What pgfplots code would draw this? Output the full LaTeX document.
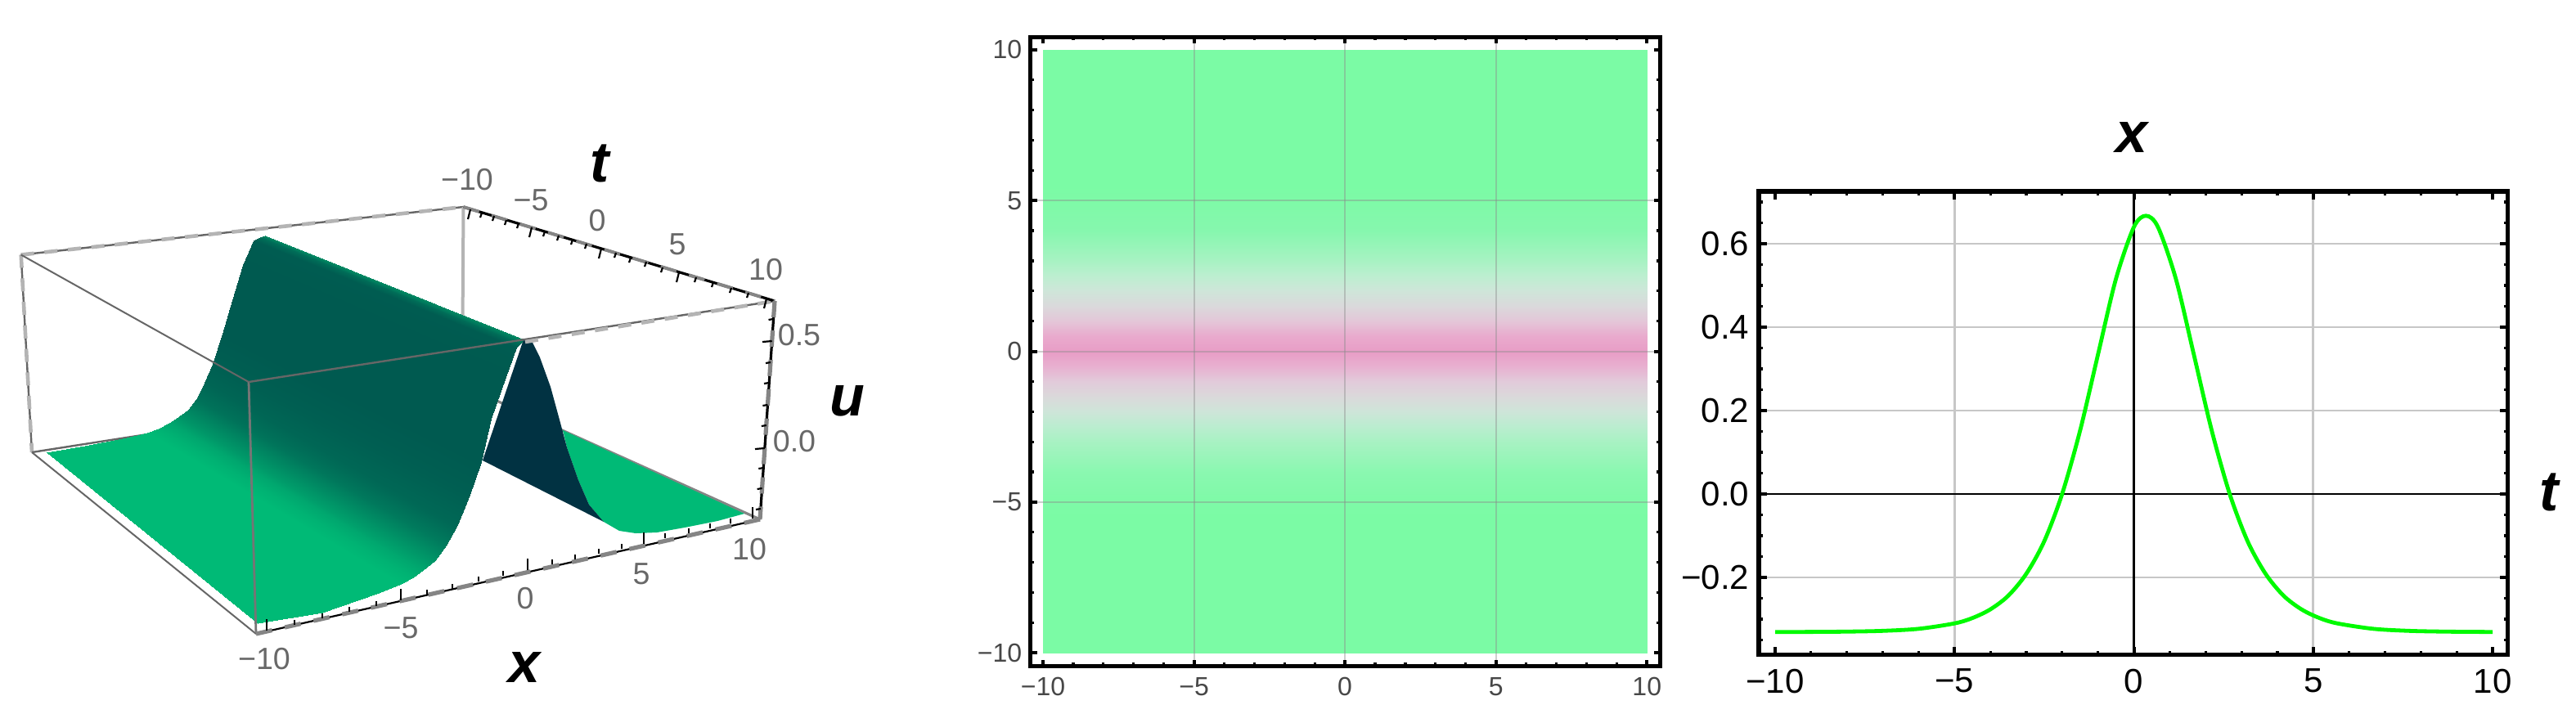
\documentclass[border=0pt]{standalone}
\usepackage{fontspec}
\setmainfont{Liberation Sans}
\usepackage{pgfplots}
\pgfplotsset{compat=1.18}
\definecolor{boxdark}{HTML}{666666}
\definecolor{boxlight}{HTML}{B4B4B4}
\definecolor{axgray}{HTML}{858585}
\definecolor{labgray}{HTML}{686868}
\tikzset{
 thindark/.style={boxdark,line width=0.6pt},
 lightdash/.style={boxlight,line width=1.15pt,dash pattern=on 4pt off 3.2pt},
 graydash/.style={axgray,line width=1.3pt,dash pattern=on 5pt off 4pt},
 blk/.style={black,line width=0.55pt},
 p1lab/.style={font=\fontsize{9.4}{10}\selectfont,text=labgray,inner sep=0pt},
 bigl/.style={font=\fontsize{17.5}{18}\selectfont\bfseries\itshape,text=black,inner sep=0pt},
 gridp/.style={color=black!45,opacity=0.42,line width=0.5pt},
}
\begin{document}
\begin{tikzpicture}
\useasboundingbox (0,0) rectangle (787.25pt,218pt);
% ---------- panel 1 : pixel-space axis
\begin{axis}[at={(0pt,0pt)},anchor=south west,scale only axis,width=787.25pt,height=218pt,
 xmin=0,xmax=3149,ymin=0,ymax=872,y dir=reverse,axis lines=none,clip=false,unbounded coords=jump,
 colormap={sf}{rgb255(0pt)=(0,186,118); rgb255(1pt)=(0,90,80)},
 point meta min=0,point meta max=1]
% back box
\addplot[thindark] coordinates {(25.7,311.5)(566.5,253)};
\addplot[lightdash] coordinates {(25.7,311.5)(566.5,253)};
\addplot[thindark] coordinates {(25.7,311.5)(39,553)};
\addplot[lightdash] coordinates {(25.7,311.5)(39,553)};
\addplot[thindark] coordinates {(566.5,253)(565,471)};
\addplot[boxlight,line width=1pt] coordinates {(566.5,253)(565,471)};
\addplot[thindark] coordinates {(39,553)(565,471)};
\addplot[axgray,line width=0.8pt] coordinates {(565,471)(929,635)};
% surface
\addplot[fill={rgb,255:red,0;green,186;blue,118},draw=none] coordinates {(688,526)(910,628)(877,637)(837,645)(803,651)(777,652)(757,649)(738,638)(720,617)(707,587)(693,547)} -- cycle;
\addplot[fill={rgb,255:red,1;green,50;blue,66},draw=none] coordinates {(649,415)(660,437)(673,473)(685,517)(693,547)(707,587)(720,617)(738,638)(590,563)(640,415)} -- cycle;
\addplot[surf,shader=interp,mesh/rows=17,mesh/cols=2,point meta=explicit]
 table[x=a,y=b,meta=m] {
a b m
57 553 0
315 762 0
104 545 0
394 749 0
155 535 0
460 726 0
180 529 0
490 714 0
194 524 0.08
505 706 0.08
207 517 0.2
517 697 0.2
219 509 0.4
532 685 0.4
230 501 0.55
545 667 0.65
240 488 0.75
558 644 0.85
250 468 0.88
566 625 0.9
260 445 0.95
574 605 0.95
272 408 1
588 565 1
284 367 1
600 512 1
297 324 1
618 461 1
310 294 0.98
631 425 0.98
318 290 0.8
636 420 0.8
324 288 0.5
640 415 0.5
};
% front box
\addplot[thindark,line width=0.5pt] coordinates {(25.7,311.5)(304,467)};
\addplot[thindark,line width=0.5pt] coordinates {(39,553)(313,775)};
\addplot[color=boxdark!90,line width=0.7pt] coordinates {(304,467)(313,775)};
\addplot[thindark] coordinates {(304,467)(947,368)};
\addplot[lightdash] coordinates {(642,418)(947,368)};
\addplot[blk] coordinates {(313,775)(929,635)};
\addplot[graydash] coordinates {(313,775)(929,635)};
\addplot[blk,line width=0.8pt] coordinates {(566.5,253)(947,368)};
\addplot[graydash,line width=1pt] coordinates {(566.5,253)(947,368)};
\addplot[blk,line width=0.8pt] coordinates {(947,368)(929,635)};
\addplot[graydash] coordinates {(947,368)(929,635)};
% x ticks
\addplot[blk] coordinates {(326,771)(326,757)(nan,nan)(360,764)(360,758)(nan,nan)(394,756)(394,750)(nan,nan)(427,748)(427,742)(nan,nan)(460,741)(460,735)(nan,nan)(490,734)(490,720)(nan,nan)(522,727)(522,721)(nan,nan)(553,720)(553,714)(nan,nan)(585,711)(585,705)(nan,nan)(615,704)(615,698)(nan,nan)(645,697)(645,683)(nan,nan)(675,690)(675,684)(nan,nan)(703,684)(703,678)(nan,nan)(732,677)(732,671)(nan,nan)(760,671)(760,665)(nan,nan)(787,665)(787,651)(nan,nan)(813,658)(813,652)(nan,nan)(842,652)(842,646)(nan,nan)(868,646)(868,640)(nan,nan)(893,640)(893,634)(nan,nan)(920,634)(920,620)};
% t ticks
\addplot[blk] coordinates {(575,256)(572,268)(nan,nan)(589,260)(587,266)(nan,nan)(604,264)(602,270)(nan,nan)(619,269)(617,275)(nan,nan)(634,273)(632,279)(nan,nan)(650,278)(647,290)(nan,nan)(666,283)(664,289)(nan,nan)(683,288)(681,294)(nan,nan)(700,293)(698,299)(nan,nan)(717,298)(715,304)(nan,nan)(735,304)(732,316)(nan,nan)(753,309)(751,315)(nan,nan)(771,315)(769,321)(nan,nan)(790,320)(788,326)(nan,nan)(810,327)(808,333)(nan,nan)(830,333)(827,345)(nan,nan)(851,339)(849,345)(nan,nan)(872,345)(870,351)(nan,nan)(894,352)(892,358)(nan,nan)(915,358)(913,364)(nan,nan)(937,365)(934,377)};
% u ticks
\addplot[blk] coordinates {(945.5,390)(939.5,391)(nan,nan)(943.7,417)(932,418)(nan,nan)(942,443)(936,444)(nan,nan)(940,468)(934,469)(nan,nan)(938.4,495)(932.4,496)(nan,nan)(936.8,520)(930.8,521)(nan,nan)(934.9,548)(923,549)(nan,nan)(933.3,572)(927.3,573)(nan,nan)(931.6,597)(925.6,598)(nan,nan)(930,622)(924,623)};
% labels
\node[p1lab] at (axis cs:323,806) {−10};
\node[p1lab] at (axis cs:490,768) {−5};
\node[p1lab] at (axis cs:642,732) {0};
\node[p1lab] at (axis cs:784,702) {5};
\node[p1lab] at (axis cs:916,672) {10};
\node[p1lab] at (axis cs:571,220) {−10};
\node[p1lab] at (axis cs:649,245) {−5};
\node[p1lab] at (axis cs:730,270) {0};
\node[p1lab] at (axis cs:828,299) {5};
\node[p1lab] at (axis cs:936,330) {10};
\node[p1lab] at (axis cs:977,410) {0.5};
\node[p1lab] at (axis cs:971,540) {0.0};
\node[bigl] at (axis cs:733,200) {t};
\node[bigl] at (axis cs:641,816) {x};
\node[bigl] at (axis cs:1036,490) {u};
\node[bigl] at (axis cs:2606,168) {x};
\node[bigl] at (axis cs:3116,602) {t};
\end{axis}
% ---------- panel 2
\begin{axis}[at={(314.875pt,14.375pt)},anchor=south west,scale only axis,width=192.5pt,height=192.375pt,
 xmin=-10.42,xmax=10.44,ymin=-10.44,ymax=10.43,axis on top,
 axis line style={line width=1.25pt},
 tick align=inside,
 major tick style={line width=1pt,black},minor tick style={line width=0.8pt,black},
 major tick length=2pt,minor tick length=1.1pt,
 xtick={-10,-5,0,5,10},ytick={-10,-5,0,5,10},
 xticklabels={−10,−5,0,5,10},yticklabels={−10,−5,0,5,10},
 minor xtick={-9,-8,-7,-6,-4,-3,-2,-1,1,2,3,4,6,7,8,9},
 minor ytick={-9,-8,-7,-6,-4,-3,-2,-1,1,2,3,4,6,7,8,9},
 xticklabel style={font=\fontsize{8}{9}\selectfont,text=black!72,inner ysep=0pt,yshift=-3.2pt},
 yticklabel style={font=\fontsize{8}{9}\selectfont,text=black!72,inner xsep=0pt,xshift=-2.4pt},
 point meta min=-10,point meta max=10,
 colormap={band}{rgb255(0pt)=(123,251,165); rgb255(9pt)=(123,251,165); rgb255(10pt)=(126,250,167); rgb255(12pt)=(138,248,176); rgb255(14pt)=(168,242,195); rgb255(15pt)=(186,237,207); rgb255(16pt)=(206,229,217); rgb255(17pt)=(218,217,218); rgb255(18pt)=(226,202,218); rgb255(19pt)=(232,176,208); rgb255(20pt)=(232,157,198); rgb255(21pt)=(233,170,205); rgb255(22pt)=(228,198,216); rgb255(23pt)=(218,217,219); rgb255(24pt)=(207,229,217); rgb255(25pt)=(188,239,208); rgb255(26pt)=(168,242,195); rgb255(28pt)=(134,247,174); rgb255(30pt)=(126,250,167); rgb255(31pt)=(123,251,165); rgb255(40pt)=(123,251,165)}]
\addplot[surf,shader=interp,mesh/rows=21,mesh/cols=2,point meta=explicit]
 table[x=a,y=b,meta=b] {
a b
-10 -10
10 -10
-10 -5.5
10 -5.5
-10 -5
10 -5
-10 -4
10 -4
-10 -3
10 -3
-10 -2.5
10 -2.5
-10 -2
10 -2
-10 -1.5
10 -1.5
-10 -1
10 -1
-10 -0.5
10 -0.5
-10 0
10 0
-10 0.5
10 0.5
-10 1
10 1
-10 1.5
10 1.5
-10 2
10 2
-10 2.5
10 2.5
-10 3
10 3
-10 4
10 4
-10 5
10 5
-10 5.5
10 5.5
-10 10
10 10
};
\addplot[gridp] coordinates {(-5,-10.44)(-5,10.43)};
\addplot[gridp] coordinates {(0,-10.44)(0,10.43)};
\addplot[gridp] coordinates {(5,-10.44)(5,10.43)};
\addplot[gridp] coordinates {(-10.42,-5)(10.44,-5)};
\addplot[gridp] coordinates {(-10.42,0)(10.44,0)};
\addplot[gridp] coordinates {(-10.42,5)(10.44,5)};
\end{axis}
% ---------- panel 3
\begin{axis}[at={(537.5pt,17.875pt)},anchor=south west,scale only axis,width=228.875pt,height=141.625pt,
 xmin=-10.456,xmax=10.42,ymin=-0.3853,ymax=0.7255,axis on top,
 axis line style={line width=1.35pt},
 tick align=inside,
 major tick style={line width=1pt,black},minor tick style={line width=0.8pt,black},
 major tick length=2.5pt,minor tick length=1.2pt,
 xtick={-10,-5,0,5,10},ytick={-0.2,0,0.2,0.4,0.6},
 xticklabels={−10,−5,0,5,10},yticklabels={−0.2,0.0,0.2,0.4,0.6},
 minor xtick={-9,-8,-7,-6,-4,-3,-2,-1,1,2,3,4,6,7,8,9},
 minor ytick={-0.35,-0.3,-0.25,-0.15,-0.1,-0.05,0.05,0.1,0.15,0.25,0.3,0.35,0.45,0.5,0.55,0.65,0.7},
 xticklabel style={font=\fontsize{10.5}{11}\selectfont,text=black,inner ysep=0pt,yshift=-4.1pt},
 yticklabel style={font=\fontsize{10.5}{11}\selectfont,text=black,inner xsep=0pt,xshift=-2.75pt}]
\addplot[color=black!22,line width=0.7pt] coordinates {(-5,-0.3853)(-5,0.7255)};
\addplot[color=black!22,line width=0.7pt] coordinates {(5,-0.3853)(5,0.7255)};
\addplot[color=black!22,line width=0.7pt] coordinates {(-10.456,-0.2)(10.42,-0.2)};
\addplot[color=black!22,line width=0.7pt] coordinates {(-10.456,0.2)(10.42,0.2)};
\addplot[color=black!22,line width=0.7pt] coordinates {(-10.456,0.4)(10.42,0.4)};
\addplot[color=black!22,line width=0.7pt] coordinates {(-10.456,0.6)(10.42,0.6)};
\addplot[black,line width=0.65pt] coordinates {(0,-0.3853)(0,0.7255)};
\addplot[black,line width=0.65pt] coordinates {(-10.456,0)(10.42,0)};
\addplot[color={rgb,255:red,0;green,250;blue,0},line width=1.2pt,smooth,tension=0.5] coordinates {
(-10,-0.3309)(-9,-0.3306)(-8,-0.3299)(-7,-0.3281)(-6,-0.3232)(-5,-0.3102)(-4.5,-0.2973)(-4,-0.2765)(-3.5,-0.2437)(-3,-0.1913)(-2.5,-0.1134)(-2,0.0003)(-1.5,0.1520)(-1,0.3347)(-0.5,0.5158)(0,0.6401)(0.335,0.667)(0.67,0.6401)(1.17,0.5158)(1.67,0.3347)(2.17,0.1520)(2.67,0.0003)(3.17,-0.1134)(3.67,-0.1913)(4.17,-0.2437)(4.67,-0.2765)(5.17,-0.2973)(5.67,-0.3102)(6.67,-0.3232)(7.67,-0.3281)(8.67,-0.3299)(9.67,-0.3306)(10,-0.3308)};
\end{axis}
\end{tikzpicture}
\end{document}
